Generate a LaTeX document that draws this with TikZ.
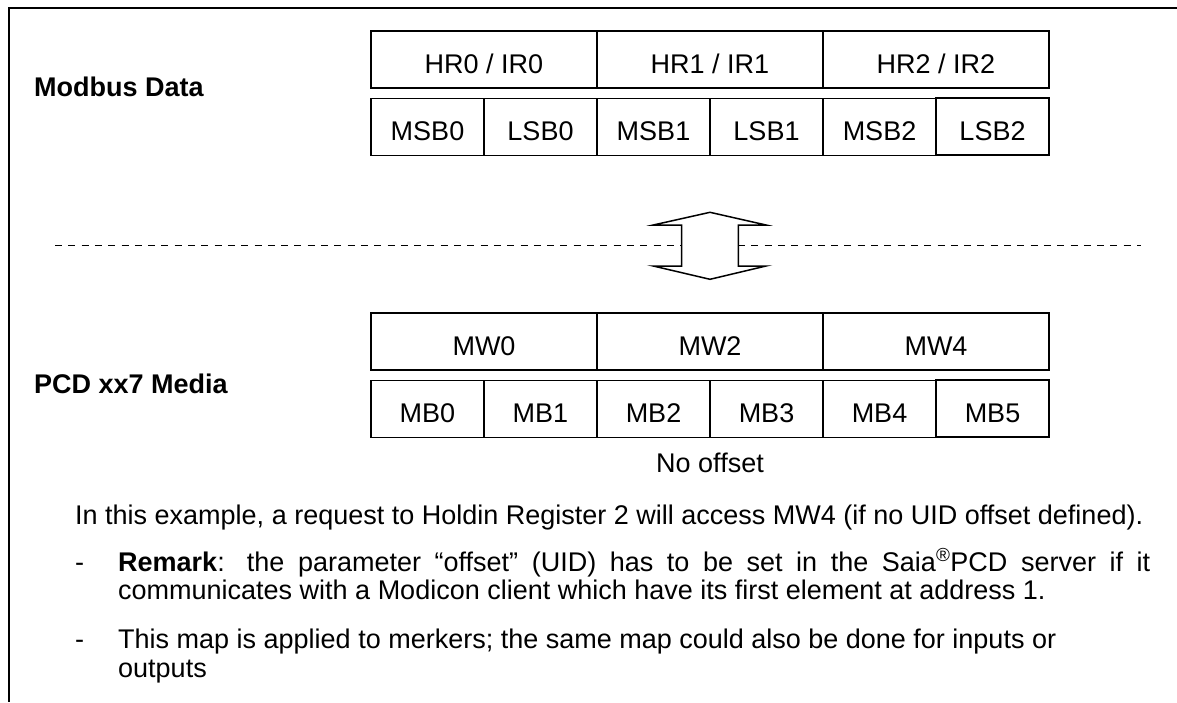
\documentclass[tikz,border=0pt]{standalone}
\usepackage{fontspec}
\setmainfont{Liberation Sans}
\begin{document}
\begin{tikzpicture}[x=1pt,y=-1pt,
  cell/.style={draw=black,line width=1.5pt,rectangle,inner sep=0pt,text height=27pt,text depth=0pt,minimum height=57pt},
  wide/.style={cell,minimum width=226pt},
  narrow/.style={cell,minimum width=113pt},
  txt/.style={inner sep=0pt,anchor=base west},
  frame/.style={line width=2pt,black},
  sep/.style={line width=1.8pt,dash pattern=on 7pt off 6.3pt}
]
\useasboundingbox (0,0) rectangle (1177,702);
\fontsize{27}{29}\selectfont
% frame
\coordinate (fr-top) at (1177,8);
\coordinate (fr-corner) at (9,8);
\coordinate (fr-bottom) at (9,702);
\draw[frame] (fr-top) -- (fr-corner) -- (fr-bottom);

% labels
\node[txt] (lab-modbus) at (34,96) {\bfseries Modbus Data};
\node[txt] (lab-pcd) at (34,393) {\bfseries PCD xx7 Media};

% Modbus rows
\node[wide] (hr0) at (484,59.5) {HR0 / IR0};
\node[wide] (hr1) at (710,59.5) {HR1 / IR1};
\node[wide] (hr2) at (936,59.5) {HR2 / IR2};
\node[narrow] (msb0) at (427.5,127) {MSB0};
\node[narrow] (lsb0) at (540.5,127) {LSB0};
\node[narrow] (msb1) at (653.5,127) {MSB1};
\node[narrow] (lsb1) at (766.5,127) {LSB1};
\node[narrow] (msb2) at (879.5,127) {MSB2};
\node[narrow] (lsb2) at (992.5,126.5) {LSB2};

% PCD rows
\node[wide] (mw0) at (484,341.5) {MW0};
\node[wide] (mw2) at (710,341.5) {MW2};
\node[wide] (mw4) at (936,341.5) {MW4};
\node[narrow] (mb0) at (427.5,409) {MB0};
\node[narrow] (mb1) at (540.5,409) {MB1};
\node[narrow] (mb2) at (653.5,409) {MB2};
\node[narrow] (mb3) at (766.5,409) {MB3};
\node[narrow] (mb4) at (879.5,409) {MB4};
\node[narrow] (mb5) at (992.5,408.5) {MB5};
\node[inner sep=0pt,anchor=base] (nooff) at (710,472) {No offset};

% separator line
\coordinate (sep-a) at (55,245.5);
\coordinate (sep-b) at (682,245.5);
\coordinate (sep-c) at (738,245.5);
\coordinate (sep-d) at (1141,245.5);
\draw[sep] (sep-a) -- (sep-b);
\draw[sep] (sep-c) -- (sep-d);

% double arrow
\draw[line width=1.5pt,line join=miter]
  (710,212.3) -- (766,225) -- (738.3,225) -- (738.3,266) -- (766,266)
  -- (710,279.3) -- (653.3,266) -- (681.7,266) -- (681.7,225) -- (653.3,225) -- cycle;

% body text
\node[txt] (t1) at (75,524) {In this example, a request to Holdin Register 2 will access MW4 (if no UID offset defined).};
\node[txt] (d1) at (75,571) {-};
\node[txt] (t2) at (118,571) {\makebox[1032pt][s]{\textbf{Remark}: the parameter “offset” (UID) has to be set in the Saia\textsuperscript{®}PCD server if it}};
\node[txt] (t3) at (118,599) {communicates with a Modicon client which have its first element at address 1.};
\node[txt] (d2) at (75,648) {-};
\node[txt] (t4) at (118,648) {This map is applied to merkers; the same map could also be done for inputs or};
\node[txt] (t5) at (118,677) {outputs};
\end{tikzpicture}
\end{document}
